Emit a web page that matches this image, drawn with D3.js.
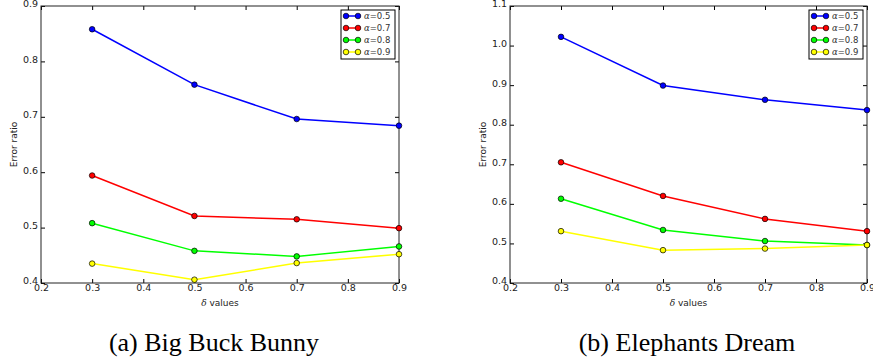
<!DOCTYPE html>
<html>
<head>
<meta charset="utf-8">
<script src="https://cdn.jsdelivr.net/npm/d3@7"></script>
<style>
  body { margin: 0; background: #fff; }
  svg { display: block; }
  .tick text { font-family: "DejaVu Sans", sans-serif; font-size: 9.5px; fill: #222; }
</style>
</head>
<body>
<svg id="fig" width="873" height="362"></svg>
<script>
// delta values on x axis
const deltas = [0.3, 0.5, 0.7, 0.9];
const alphaLabels = ['0.5', '0.7', '0.8', '0.9'];
const seriesColors = ['#0000ff', '#ff0000', '#00ff00', '#ffff00'];

// (a) Big Buck Bunny
const bunnyA05 = [0.858, 0.758, 0.696, 0.684];
const bunnyA07 = [0.594, 0.521, 0.515, 0.499];
const bunnyA08 = [0.508, 0.458, 0.448, 0.466];
const bunnyA09 = [0.435, 0.406, 0.436, 0.452];

// (b) Elephants Dream
const dreamA05 = [1.022, 0.899, 0.863, 0.837];
const dreamA07 = [0.705, 0.620, 0.562, 0.531];
const dreamA08 = [0.613, 0.534, 0.506, 0.496];
const dreamA09 = [0.531, 0.483, 0.487, 0.496];

const xTicks = [0.2, 0.3, 0.4, 0.5, 0.6, 0.7, 0.8, 0.9];
const bunnyYTicks = [0.4, 0.5, 0.6, 0.7, 0.8, 0.9];
const dreamYTicks = [0.4, 0.5, 0.6, 0.7, 0.8, 0.9, 1.0, 1.1];

const svg = d3.select('#fig');

function drawPanel(cfg) {
  const x = d3.scaleLinear().domain([0.2, 0.9]).range([cfg.left, cfg.right]);
  const y = d3.scaleLinear().domain(cfg.yDomain).range([cfg.bottom, cfg.top]);
  const g = svg.append('g');

  // axes with inward ticks on all four sides
  const bottomAx = g.append('g').attr('transform', `translate(0,${cfg.bottom})`)
    .call(d3.axisBottom(x).tickValues(xTicks).tickFormat(d3.format('.1f')).tickSizeInner(-4).tickSizeOuter(0).tickPadding(3));
  const topAx = g.append('g').attr('transform', `translate(0,${cfg.top})`)
    .call(d3.axisTop(x).tickValues(xTicks).tickFormat('').tickSizeInner(-4).tickSizeOuter(0));
  const leftAx = g.append('g').attr('transform', `translate(${cfg.left},0)`)
    .call(d3.axisLeft(y).tickValues(cfg.yTicks).tickFormat(d3.format('.1f')).tickSizeInner(-4).tickSizeOuter(0).tickPadding(3));
  const rightAx = g.append('g').attr('transform', `translate(${cfg.right},0)`)
    .call(d3.axisRight(y).tickValues(cfg.yTicks).tickFormat('').tickSizeInner(-4).tickSizeOuter(0));
  [bottomAx, topAx, leftAx, rightAx].forEach(a => {
    a.selectAll('.domain').remove();
    a.selectAll('.tick line').attr('stroke', '#000').attr('stroke-width', 1);
  });
  bottomAx.selectAll('.tick text').attr('dy', '0.55em');
  leftAx.selectAll('.tick text').attr('dy', '0.1em');

  g.append('rect')
    .attr('x', cfg.left).attr('y', cfg.top)
    .attr('width', cfg.right - cfg.left).attr('height', cfg.bottom - cfg.top)
    .attr('fill', 'none').attr('stroke', '#222').attr('stroke-width', 1);

  const line = d3.line().x((d, i) => x(deltas[i])).y(d => y(d));
  cfg.series.forEach((vals, k) => {
    g.append('path').datum(vals)
      .attr('d', line).attr('fill', 'none')
      .attr('stroke', seriesColors[k]).attr('stroke-width', 1.5);
    g.selectAll(null).data(vals).join('circle')
      .attr('cx', (d, i) => x(deltas[i])).attr('cy', d => y(d))
      .attr('r', 2.8).attr('fill', seriesColors[k])
      .attr('stroke', '#000').attr('stroke-width', 0.7);
  });

  // axis labels
  g.append('text')
    .attr('x', (cfg.left + cfg.right) / 2).attr('y', cfg.bottom + 23)
    .attr('text-anchor', 'middle')
    .style('font-family', '"DejaVu Sans", sans-serif').style('font-size', '9px').attr('fill', '#222')
    .html('<tspan font-family="DejaVu Serif" font-style="italic">δ</tspan> values');
  g.append('text')
    .attr('transform', `translate(${cfg.left - 24},${(cfg.top + cfg.bottom) / 2}) rotate(-90)`)
    .attr('text-anchor', 'middle')
    .style('font-family', '"DejaVu Sans", sans-serif').style('font-size', '9px').attr('fill', '#222')
    .text('Error ratio');

  // legend
  const lg = g.append('g').attr('transform', `translate(${cfg.legendX},${cfg.top + 4})`);
  lg.append('rect').attr('x', 0).attr('y', 0).attr('width', 54).attr('height', 49)
    .attr('fill', '#fff').attr('stroke', '#000').attr('stroke-width', 1);
  alphaLabels.forEach((lab, k) => {
    const ry = 6 + k * 12;
    lg.append('line').attr('x1', 5).attr('x2', 17).attr('y1', ry).attr('y2', ry)
      .attr('stroke', seriesColors[k]).attr('stroke-width', 1.5);
    [5, 17].forEach(cx => lg.append('circle').attr('cx', cx).attr('cy', ry).attr('r', 2.8)
      .attr('fill', seriesColors[k]).attr('stroke', '#000').attr('stroke-width', 0.7));
    lg.append('text').attr('x', 23).attr('y', ry + 3)
      .style('font-family', '"DejaVu Sans", sans-serif').style('font-size', '8.5px').attr('fill', '#333')
      .html(`<tspan font-family="DejaVu Serif" font-style="italic">α</tspan>=${lab}`);
  });

  // caption
  svg.append('text')
    .attr('x', cfg.captionX).attr('y', 351)
    .attr('text-anchor', 'middle')
    .style('font-family', '"Liberation Serif", serif').style('font-size', '26px').attr('fill', '#000')
    .text(cfg.caption);
}

drawPanel({
  left: 41, right: 399, top: 6, bottom: 283,
  yDomain: [0.4, 0.9], yTicks: bunnyYTicks,
  series: [bunnyA05, bunnyA07, bunnyA08, bunnyA09],
  legendX: 341, captionX: 214, caption: '(a) Big Buck Bunny'
});
drawPanel({
  left: 510, right: 867, top: 6, bottom: 283,
  yDomain: [0.4, 1.1], yTicks: dreamYTicks,
  series: [dreamA05, dreamA07, dreamA08, dreamA09],
  legendX: 809, captionX: 687, caption: '(b) Elephants Dream'
});
</script>
</body>
</html>
